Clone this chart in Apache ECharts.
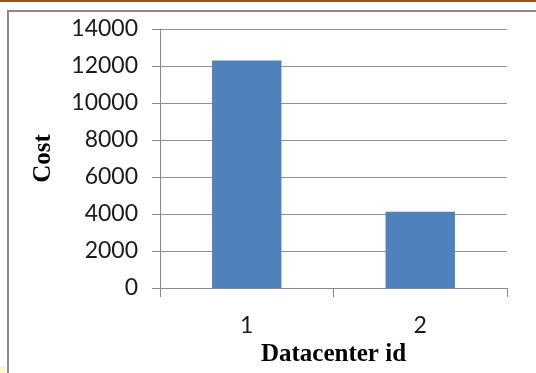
<!DOCTYPE html>
<html>
<head>
<meta charset="utf-8">
<script src="https://cdn.jsdelivr.net/npm/echarts@6/dist/echarts.min.js"></script>
<style>
  html, body { margin: 0; padding: 0; background: #ffffff; }
  #chart { width: 536px; height: 373px; }
</style>
</head>
<body>
<div id="chart"></div>
<script>
// Datacenter cost data
const categories = ['1', '2'];
const costValues = [12300, 4120];
const yTicks = { min: 0, max: 14000, interval: 2000 };

const chart = echarts.init(document.getElementById('chart'), null, { renderer: 'canvas' });

const axisGray = '#8a8a8a';
const labelFont = 'Lato, "Open Sans", sans-serif';
const titleFont = '"Liberation Serif", "DejaVu Serif", serif';

chart.setOption({
  animation: false,
  backgroundColor: '#ffffff',
  graphic: [
    // slide rule along the top edge
    { type: 'rect', shape: { x: 0, y: 0, width: 536, height: 2 }, style: { fill: '#a64d06' }, silent: true },
    // chart frame
    { type: 'rect', shape: { x: 8, y: 11, width: 540, height: 380 }, style: { fill: 'none', stroke: '#8c8c8c', lineWidth: 2 }, silent: true },
    // corner swatch
    { type: 'rect', shape: { x: 0, y: 366, width: 6, height: 7 }, style: { fill: '#fbf7cf' }, silent: true }
  ],
  grid: { left: 160, right: 29, top: 29, bottom: 85, containLabel: false },
  xAxis: {
    type: 'category',
    data: categories,
    name: 'Datacenter id',
    nameLocation: 'middle',
    nameGap: 50,
    nameTextStyle: { fontFamily: titleFont, fontWeight: 'bold', fontSize: 25, color: '#000000' },
    axisLine: { show: true, lineStyle: { color: axisGray, width: 1 } },
    axisTick: { show: true, length: 9, lineStyle: { color: axisGray } },
    axisLabel: { fontFamily: labelFont, fontSize: 23, color: '#1a1a1a', margin: 26 },
    splitLine: { show: false }
  },
  yAxis: {
    type: 'value',
    min: yTicks.min,
    max: yTicks.max,
    interval: yTicks.interval,
    name: 'Cost',
    nameLocation: 'middle',
    nameRotate: 90,
    nameGap: 104,
    nameTextStyle: { fontFamily: titleFont, fontWeight: 'bold', fontSize: 25, color: '#000000' },
    axisLine: { show: true, lineStyle: { color: axisGray, width: 1 } },
    axisTick: { show: true, length: 8, lineStyle: { color: axisGray } },
    axisLabel: { fontFamily: labelFont, fontSize: 23, color: '#1a1a1a', margin: 22, formatter: v => String(v) },
    splitLine: { show: true, lineStyle: { color: '#8f8f8f', width: 1 } }
  },
  series: [{
    type: 'bar',
    data: costValues,
    barWidth: '40%',
    itemStyle: { color: '#4f81bd' }
  }]
});
</script>
</body>
</html>
